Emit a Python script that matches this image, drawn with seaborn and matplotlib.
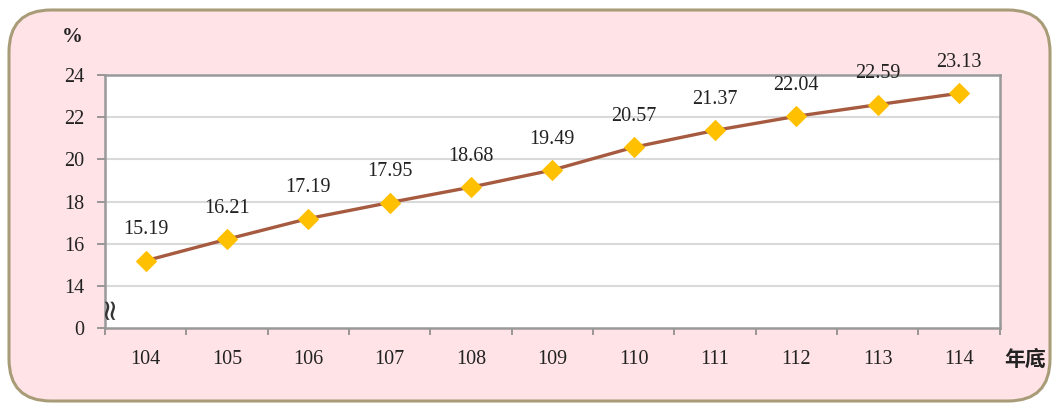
import matplotlib
matplotlib.use("Agg")
import matplotlib.pyplot as plt
import seaborn as sns
import numpy as np
import pandas as pd
from matplotlib.patches import FancyBboxPatch
from matplotlib.ticker import FixedLocator
from matplotlib.transforms import IdentityTransform

years = ["104", "105", "106", "107", "108", "109", "110", "111", "112", "113", "114"]
values = [15.19, 16.21, 17.19, 17.95, 18.68, 19.49, 20.57, 21.37, 22.04, 22.59, 23.13]
ytick_values = [12, 14, 16, 18, 20, 22, 24]
ytick_labels = ["0", "14", "16", "18", "20", "22", "24"]

sns.set_theme(style="white")
plt.rcParams['font.family'] = ['Liberation Serif', 'Noto Sans CJK TC', 'DejaVu Sans']

fig = plt.figure(figsize=(10.6, 4.03), dpi=100)
fig.patch.set_facecolor("white")
bg = FancyBboxPatch((9, 2), 1041, 391, boxstyle="round,pad=0,rounding_size=42",
                    transform=IdentityTransform(), facecolor="#FFE3E6", edgecolor="#A89C78",
                    linewidth=2.2, zorder=-10)
fig.patches.append(bg)

ax = fig.add_axes([0.099, 0.186, 0.844, 0.628])
ax.set_zorder(2)
ax.set_facecolor("white")

df = pd.DataFrame({"idx": np.arange(len(years)), "val": values})
sns.lineplot(data=df, x="idx", y="val", ax=ax, color="#A65A3F", linewidth=2.4,
             marker="D", markersize=10.5, markerfacecolor="#FFC000", markeredgecolor="#FFC000",
             zorder=3)

for i, v in enumerate(values):
    ax.annotate(f"{v:.2f}", (i, v), xytext=(0, 19), textcoords="offset points",
                ha="center", va="baseline", fontsize=14.5, color="#222222", zorder=6,
                annotation_clip=False)

ax.set_xlim(-0.5, len(years) - 0.5)
ax.set_ylim(12, 24)
ax.set_yticks(ytick_values)
ax.set_yticklabels(ytick_labels)
ax.set_xticks(np.arange(len(years)))
ax.set_xticklabels(years)
ax.xaxis.set_minor_locator(FixedLocator(np.arange(len(years) + 1) - 0.5))
ax.tick_params(axis="x", which="major", length=0, pad=16, labelsize=14.5, labelcolor="#222222")
ax.tick_params(axis="x", which="minor", length=5, color="#888888", width=1.2, direction="out", bottom=True)
ax.tick_params(axis="y", length=6, color="#888888", width=1.2, direction="out", left=True, labelsize=14.5,
               labelcolor="#222222", pad=9)
ax.set_xlabel("")
ax.set_ylabel("")

for y in [14, 16, 18, 20, 22]:
    ax.axhline(y, color="#D9D9D9", linewidth=1.5, zorder=1)
for s in ["left", "right", "top", "bottom"]:
    ax.spines[s].set_visible(True)
    ax.spines[s].set_color("#999999")
    ax.spines[s].set_linewidth(1.8)

ax.text(-0.46, 13.0, "≈", rotation=90, ha="center", va="center", fontsize=21,
        color="#333333", family=["DejaVu Sans"], zorder=5)

fig.text(72 / 1060, 1 - 37 / 403, "%", ha="center", va="center", fontsize=15, fontweight="bold",
         color="#222222")
fig.text(1025 / 1060, 1 - 359 / 403, "年底", ha="center", va="center", fontsize=15,
         fontweight="bold", color="#222222", family=["Noto Sans CJK TC", "DejaVu Sans"])

fig.savefig("out.png", dpi=100, facecolor="white")
